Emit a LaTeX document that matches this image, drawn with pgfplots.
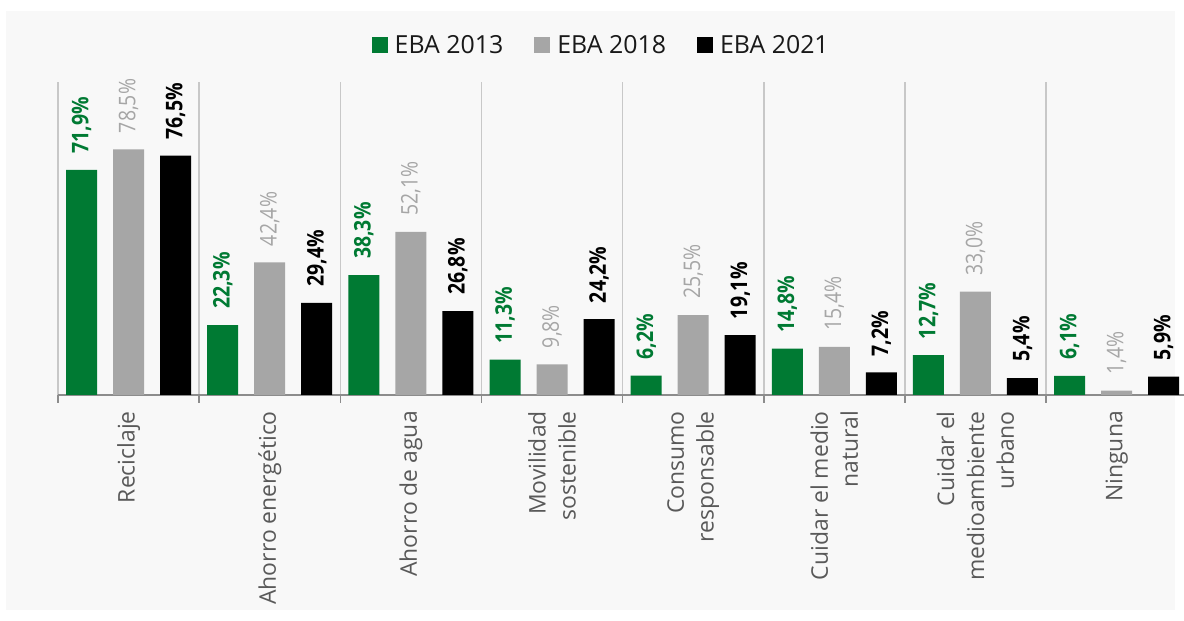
\documentclass[border=0pt]{standalone}
\usepackage{fontspec}
\setmainfont{Open Sans}
\newfontfamily\valfont[FakeStretch=0.85]{Open Sans}
\usepackage{pgfplots}
\pgfplotsset{compat=1.18}
\definecolor{ebagreen}{HTML}{007A33}
\definecolor{ebagray}{HTML}{A6A6A6}
\definecolor{bgcol}{HTML}{F8F8F8}
\definecolor{sepcol}{HTML}{C8C8C8}
\definecolor{axcol}{HTML}{8C8C8C}
\definecolor{labcol}{HTML}{595959}
\begin{document}
\begin{tikzpicture}[x=1bp,y=1bp]
\fill[white] (0,0) rectangle (1184,621);
\fill[bgcol] (6,11) rectangle (1175,610.3);
\begin{axis}[
    at={(58bp,226bp)}, anchor=south west,
    scale only axis, width=1126bp, height=313bp,
    xmin=0, xmax=7.977, ymin=0, ymax=100,
    enlargelimits=false,
    axis x line*=bottom, axis y line=none,
    ytick=\empty,
    xtick={0,...,7}, xticklabels={,,,,,,,,},
    tick align=outside, major tick length=8bp,
    x axis line style={draw=axcol, line width=2bp},
    xtick style={draw=axcol, line width=1.5bp},
    xmajorgrids, grid style={draw=sepcol, line width=1.5bp},
    extra x ticks={0.5,1.5,...,7.5},
    extra x tick labels={Reciclaje, Ahorro energético, Ahorro de agua,
        {Movilidad\\sostenible}, {Consumo\\responsable},
        {Cuidar el medio\\natural}, {Cuidar el\\medioambiente\\urbano}, Ninguna},
    extra x tick style={grid=none, major tick length=0pt,
        tick label style={yshift=-16bp, rotate=90, anchor=east, align=right, inner sep=0pt,
        text=labcol, font=\fontsize{23}{30}\selectfont}},
    ybar, bar width=31bp,
    nodes near coords={\pgfmathprintnumber[fixed,fixed zerofill,precision=1,use comma,assume math mode=true]{\pgfplotspointmeta}\%},
    every node near coord/.append style={rotate=90, anchor=west, inner xsep=16bp, inner ysep=0pt,
        font=\valfont\fontsize{23}{23}\selectfont},
    legend columns=3,
    legend style={at={(0.482,1.118)}, anchor=center, draw=none, fill=none,
        font=\fontsize{25}{25}\selectfont, text=black!90,
        nodes={inner sep=1bp},
        /tikz/every odd column/.append style={column sep=6bp},
        /tikz/every even column/.append style={column sep=30bp}},
    legend image code/.code={\fill[#1] (0bp,-8bp) rectangle (16bp,8bp);},
]
\addplot[fill=ebagreen, draw=none, bar shift=-47bp,
    every node near coord/.append style={text=ebagreen, font=\valfont\fontsize{23}{23}\selectfont\bfseries}]
    coordinates {(0.5,71.9) (1.5,22.3) (2.5,38.3) (3.5,11.3) (4.5,6.2) (5.5,14.8) (6.5,12.7) (7.5,6.1)};
\addplot[fill=ebagray, draw=none, bar shift=0bp,
    every node near coord/.append style={text=ebagray}]
    coordinates {(0.5,78.5) (1.5,42.4) (2.5,52.1) (3.5,9.8) (4.5,25.5) (5.5,15.4) (6.5,33.0) (7.5,1.4)};
\addplot[fill=black, draw=none, bar shift=47bp,
    every node near coord/.append style={text=black, font=\valfont\fontsize{23}{23}\selectfont\bfseries}]
    coordinates {(0.5,76.5) (1.5,29.4) (2.5,26.8) (3.5,24.2) (4.5,19.1) (5.5,7.2) (6.5,5.4) (7.5,5.9)};
\legend{EBA 2013, EBA 2018, EBA 2021}
\end{axis}
\pgfresetboundingbox
\path[use as bounding box] (0,0) rectangle (1184,621);
\end{tikzpicture}
\end{document}
